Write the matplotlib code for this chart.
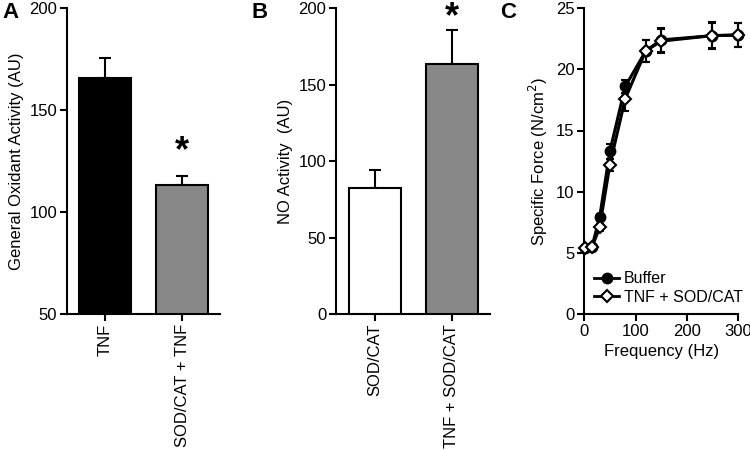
import matplotlib.pyplot as plt
from matplotlib.lines import Line2D

plt.rcParams['font.family'] = ['Liberation Sans', 'DejaVu Sans']
plt.rcParams['axes.linewidth'] = 1.5

# panel A
a_labels = ['TNF', 'SOD/CAT + TNF']
a_values = [165.5, 113.5]
a_err = [10, 4]
a_colors = ['black', '#888888']

# panel B
b_labels = ['SOD/CAT', 'TNF + SOD/CAT']
b_values = [82.5, 163.5]
b_err = [11.5, 22]
b_colors = ['white', '#888888']

# panel C
freq = [1, 15, 30, 50, 80, 120, 150, 250, 300]
buffer_force = [5.4, 5.5, 7.9, 13.3, 18.6, 21.5, 22.4, 22.75, 22.8]
buffer_err = [0.2, 0.2, 0.3, 0.6, 0.5, 0.9, 1.0, 1.1, 1.0]
tnf_force = [5.4, 5.45, 7.1, 12.2, 17.6, 21.5, 22.3, 22.75, 22.8]
tnf_err = [0.2, 0.2, 0.3, 0.5, 1.0, 0.9, 1.0, 1.0, 1.0]

fig = plt.figure(figsize=(7.5, 4.5), dpi=100)

def bar_panel(ax, labels, values, err, colors, ylim, yticks, ylabel):
    x = range(len(values))
    ax.bar(x, [v - ylim[0] for v in values], bottom=ylim[0], width=0.67,
           color=colors, edgecolor='black', linewidth=1.5, zorder=3)
    ax.errorbar(x, values, yerr=[[0] * len(err), err], fmt='none',
                ecolor='black', elinewidth=1.5, capsize=4, capthick=1.5, zorder=2)
    ax.set_ylim(*ylim)
    ax.set_yticks(yticks)
    ax.set_xlim(-0.5, 1.49)
    ax.set_xticks(list(x))
    ax.set_xticklabels(labels, rotation=90, fontsize=12)
    ax.set_ylabel(ylabel, fontsize=12)
    ax.spines['top'].set_visible(False)
    ax.spines['right'].set_visible(False)
    ax.tick_params(width=1.5, length=5, labelsize=12, pad=2)

axA = fig.add_axes([0.089, 0.302, 0.204, 0.68])
bar_panel(axA, a_labels, a_values, a_err, a_colors, (50, 200), [50, 100, 150, 200],
          'General Oxidant Activity (AU)')
axA.text(1, 129.5, '*', ha='center', va='center', fontsize=26, fontweight='bold')
fig.text(0.003, 0.972, 'A', fontsize=16, fontweight='bold', va='center')

axB = fig.add_axes([0.448, 0.302, 0.205, 0.68])
bar_panel(axB, b_labels, b_values, b_err, b_colors, (0, 200), [0, 50, 100, 150, 200],
          'NO Activity  (AU)')
axB.text(1, 194, '*', ha='center', va='center', fontsize=26, fontweight='bold', clip_on=False)
fig.text(0.335, 0.972, 'B', fontsize=16, fontweight='bold', va='center')

axC = fig.add_axes([0.779, 0.302, 0.205, 0.68])
axC.errorbar(freq, buffer_force, yerr=buffer_err, color='black', marker='o', ms=7.5,
             mfc='black', mec='black', lw=2.2, elinewidth=1.5, capsize=3, capthick=1.5,
             zorder=3, clip_on=False)
axC.errorbar(freq, tnf_force, yerr=tnf_err, color='black', marker='D', ms=6.5,
             mfc='white', mec='black', mew=1.5, lw=2.2, elinewidth=1.5, capsize=3,
             capthick=1.5, zorder=4, clip_on=False)
axC.set_xlim(0, 300)
axC.set_ylim(0, 25)
axC.set_xticks([0, 100, 200, 300])
axC.set_yticks([0, 5, 10, 15, 20, 25])
axC.set_xlabel('Frequency (Hz)', fontsize=12, labelpad=4)
axC.set_ylabel('Specific Force (N/cm$^2$)', fontsize=12)
axC.spines['top'].set_visible(False)
axC.spines['right'].set_visible(False)
axC.tick_params(width=1.5, length=5, labelsize=12, pad=2)
handles = [
    Line2D([], [], color='black', lw=2, marker='o', ms=7.5, mfc='black'),
    Line2D([], [], color='black', lw=2, marker='D', ms=6.5, mfc='white', mew=1.5),
]
axC.legend(handles, ['Buffer', 'TNF + SOD/CAT'], loc='lower left', frameon=False,
           fontsize=11.5, handlelength=1.6, handletextpad=0.3, borderaxespad=0.4,
           labelspacing=0.2, borderpad=0.2)
fig.text(0.667, 0.972, 'C', fontsize=16, fontweight='bold', va='center')

plt.savefig('out.png', dpi=100)
